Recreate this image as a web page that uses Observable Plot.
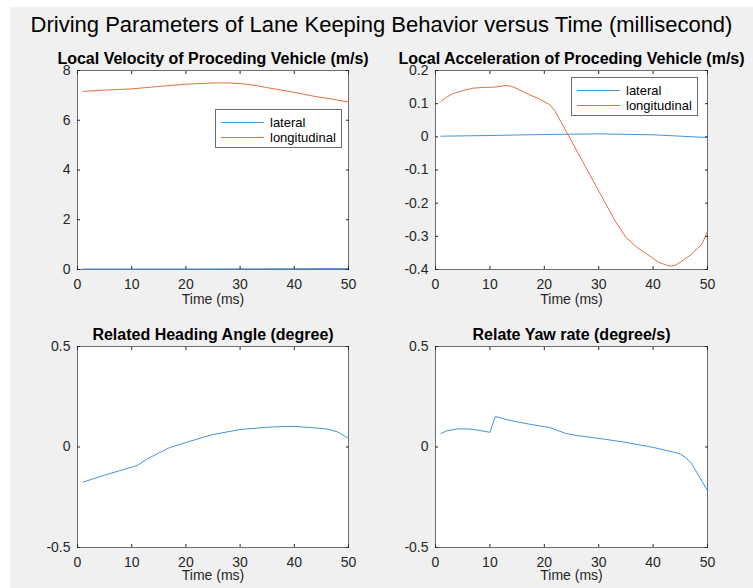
<!DOCTYPE html>
<html><head><meta charset="utf-8">
<script src="https://cdn.jsdelivr.net/npm/d3@7"></script>
<script src="https://cdn.jsdelivr.net/npm/@observablehq/plot@0.6"></script>
<style>
body{margin:0;background:#fff;}
#fig{position:relative;width:753px;height:588px;overflow:hidden;font-family:"Liberation Sans",Arial,Helvetica,sans-serif;}
#bg{position:absolute;left:10px;top:7px;right:0;bottom:0;background:#f0f0f0;}
#sup{position:absolute;left:10px;right:0;top:12px;text-align:center;font-size:22px;color:#000;white-space:nowrap;}
.panel{position:absolute;}
.panel svg{overflow:visible;}
.legend{position:absolute;background:#fff;border:1px solid #6e6e6e;font-size:13px;color:#000;box-sizing:border-box;width:127px;height:39px;}
.legend .row{position:absolute;left:5px;height:14px;display:flex;align-items:center;}
.legend .sw{width:43px;height:0;border-top:1px solid;margin-right:6px;}
</style>
</head><body>
<div id="fig"><div id="bg"></div><div id="sup"></div></div>
<script>
const supTitle = "Driving Parameters of Lane Keeping Behavior versus Time (millisecond)";
const panelTitles = ["Local Velocity of Proceding Vehicle (m/s)", "Local Acceleration of Proceding Vehicle (m/s)", "Related Heading Angle (degree)", "Relate Yaw rate (degree/s)"];
const xLabel = "Time (ms)";
const seriesNames = ["lateral", "longitudinal"];
const colors = ["#4393da", "#e2703f"];
const xTicks = [0, 10, 20, 30, 40, 50];
const yTicksVel = [0, 2, 4, 6, 8];
const yTicksAcc = [-0.4, -0.3, -0.2, -0.1, 0, 0.1, 0.2];
const yTicksAng = [-0.5, 0, 0.5];

// Velocity
const velT   = [1, 5, 10, 11, 15, 20, 25, 28, 30, 32, 35, 40, 44, 47, 50];
const velLon = [7.16, 7.21, 7.26, 7.28, 7.36, 7.45, 7.5, 7.5, 7.47, 7.43, 7.31, 7.12, 6.95, 6.85, 6.73];
const velLat = [0.02, 0.02, 0.02, 0.02, 0.02, 0.02, 0.022, 0.025, 0.025, 0.025, 0.03, 0.03, 0.035, 0.035, 0.035];

// Acceleration
const accT   = [1, 2, 3, 5, 7, 9, 11, 13, 14, 15, 17, 19, 21, 22, 23, 24, 25, 27, 29, 31, 33, 35, 37, 39, 41, 43, 44, 45, 47, 49, 50];
const accLon = [0.107, 0.119, 0.129, 0.139, 0.147, 0.149, 0.15, 0.155, 0.152, 0.145, 0.129, 0.115, 0.097, 0.077, 0.047, 0.017, -0.013, -0.073, -0.133, -0.193, -0.253, -0.303, -0.333, -0.355, -0.378, -0.39, -0.388, -0.378, -0.355, -0.323, -0.286];
const accLatT = [1, 10, 20, 30, 40, 45, 50];
const accLat  = [0.002, 0.004, 0.007, 0.009, 0.006, 0.002, -0.002];

// Heading angle
const angT = [1, 5, 10, 11, 13, 15, 17, 20, 23, 25, 30, 35, 38, 40, 43, 46, 48, 50];
const ang  = [-0.175, -0.14, -0.1, -0.092, -0.057, -0.03, -0.003, 0.022, 0.047, 0.062, 0.087, 0.098, 0.102, 0.102, 0.097, 0.09, 0.075, 0.043];

// Yaw rate
const yawT = [1, 2, 4, 6, 8, 10, 11, 13, 15, 18, 21, 22, 24, 26, 30, 35, 40, 44, 45, 46, 47, 48, 50];
const yaw  = [0.067, 0.08, 0.09, 0.09, 0.083, 0.073, 0.152, 0.137, 0.125, 0.11, 0.097, 0.087, 0.067, 0.057, 0.043, 0.023, -0.002, -0.027, -0.035, -0.053, -0.08, -0.125, -0.217];

const zip = (t, v) => t.map((d, i) => ({t: d, v: v[i]}));
const fmt = d => String(d);
const FONT = '"Liberation Sans", Arial, Helvetica, sans-serif';

document.getElementById("sup").textContent = supTitle;
const fig = document.getElementById("fig");

function panel({left, top, width, height, ml, mr, mt, mb, yDomain, yTicks, series, title, legend, labelDy}) {
  const chart = Plot.plot({
    width, height, marginLeft: ml, marginRight: mr, marginTop: mt, marginBottom: mb,
    style: {background: "transparent", fontFamily: FONT, fontSize: "14px", color: "#262626", overflow: "visible"},
    x: {domain: [0, 50], axis: null},
    y: {domain: yDomain, axis: null},
    marks: [
      Plot.frame({fill: "white", stroke: "none"}),
      Plot.frame({stroke: "#6e6e6e"}),
      ...series.map(s => Plot.line(s.data, {x: "t", y: "v", stroke: s.color, strokeWidth: 1, curve: "linear"})),
      Plot.axisX(xTicks, {anchor: "bottom", tickSize: -3, tickPadding: 13, tickFormat: fmt, label: null, stroke: "#262626", fill: "#262626"}),
      Plot.axisX(xTicks, {anchor: "top", tickSize: -3, fill: "none", label: null, stroke: "#262626"}),
      Plot.axisY(yTicks, {anchor: "left", tickSize: -3, tickPadding: 10, tickFormat: fmt, label: null, stroke: "#262626", fill: "#262626"}),
      Plot.axisY(yTicks, {anchor: "right", tickSize: -3, fill: "none", label: null, stroke: "#262626"}),
      Plot.text([xLabel], {text: d => d, frameAnchor: "bottom", dy: labelDy, fontSize: 14, fill: "#262626"}),
      Plot.text([title], {text: d => d, frameAnchor: "top", dy: -7, lineAnchor: "bottom", fontWeight: "bold", fontSize: 16, fill: "#000"})
    ]
  });
  const div = document.createElement("div");
  div.className = "panel";
  div.style.left = left + "px";
  div.style.top = top + "px";
  div.appendChild(chart);
  fig.appendChild(div);
  if (legend) {
    const lg = document.createElement("div");
    lg.className = "legend";
    lg.style.left = legend[0] + "px";
    lg.style.top = legend[1] + "px";
    series.forEach((s, i) => {
      const row = document.createElement("div");
      row.className = "row";
      row.style.top = (5 + i * 15) + "px";
      const sw = document.createElement("span");
      sw.className = "sw";
      sw.style.borderTopColor = s.color;
      const tx = document.createElement("span");
      tx.textContent = s.name;
      row.appendChild(sw); row.appendChild(tx);
      lg.appendChild(row);
    });
    fig.appendChild(lg);
  }
}

panel({left: 0, top: 40, width: 376, height: 280, ml: 77, mr: 28, mt: 30, mb: 51, labelDy: 34,
  yDomain: [0, 8], yTicks: yTicksVel, title: panelTitles[0], legend: [215, 109],
  series: [{name: seriesNames[0], color: colors[0], data: zip(velT, velLat)},
           {name: seriesNames[1], color: colors[1], data: zip(velT, velLon)}]});
panel({left: 376, top: 40, width: 377, height: 280, ml: 59, mr: 46, mt: 30, mb: 51, labelDy: 34,
  yDomain: [-0.4, 0.2], yTicks: yTicksAcc, title: panelTitles[1], legend: [571, 77],
  series: [{name: seriesNames[0], color: colors[0], data: zip(accLatT, accLat)},
           {name: seriesNames[1], color: colors[1], data: zip(accT, accLon)}]});
panel({left: 0, top: 316, width: 376, height: 272, ml: 77, mr: 28, mt: 30, mb: 41, labelDy: 32,
  yDomain: [-0.5, 0.5], yTicks: yTicksAng, title: panelTitles[2],
  series: [{name: "angle", color: colors[0], data: zip(angT, ang)}]});
panel({left: 376, top: 316, width: 377, height: 272, ml: 59, mr: 46, mt: 30, mb: 41, labelDy: 32,
  yDomain: [-0.5, 0.5], yTicks: yTicksAng, title: panelTitles[3],
  series: [{name: "yaw", color: colors[0], data: zip(yawT, yaw)}]});
</script>
</body></html>
